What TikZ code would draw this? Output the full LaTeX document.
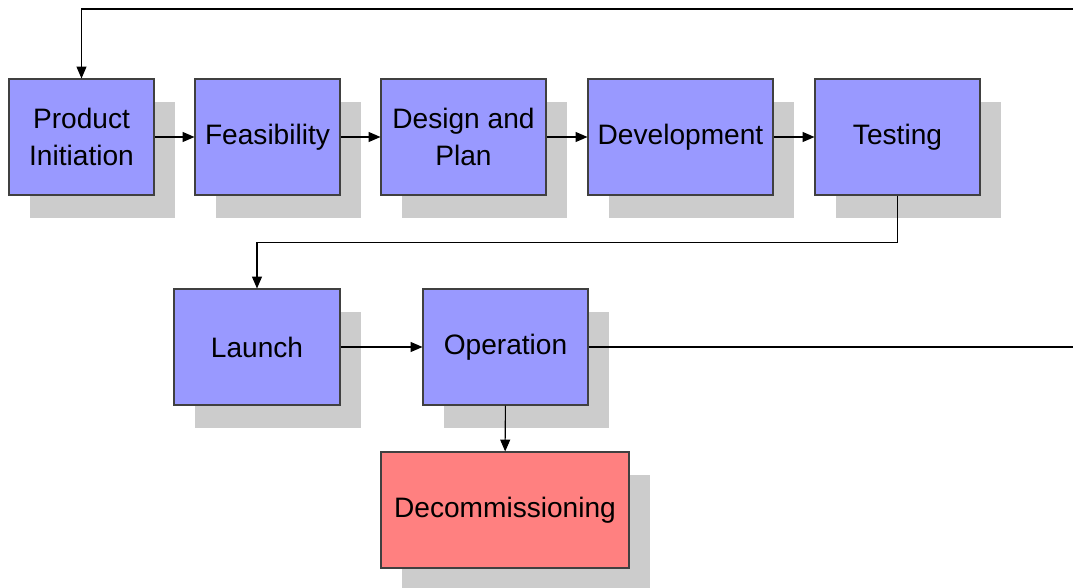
\documentclass[tikz,border=0pt]{standalone}
\usepackage{fontspec}
\setmainfont{Liberation Sans}
\usetikzlibrary{shadows,arrows.meta}
\definecolor{phaseblue}{HTML}{9999FF}
\definecolor{phasered}{HTML}{FF8080}
\definecolor{shadowgray}{HTML}{CCCCCC}
\tikzset{
  phase/.style={draw=black!75, line width=0.6pt, fill=phaseblue, align=center,
    minimum height=2.32cm, inner sep=2pt,
    font=\fontsize{16}{21}\selectfont,
    drop shadow={shadow xshift=0.42cm, shadow yshift=-0.46cm, fill=shadowgray, opacity=1}},
  flow/.style={line width=0.6pt, -{Triangle[length=6.8pt,width=5.7pt]}}
}

\begin{document}
\begin{tikzpicture}[x=0.02cm, y=-0.02cm]
            \useasboundingbox (0,0) rectangle (1073,588);
            % first row
            \node[phase, minimum width=2.9cm] (init) at (81.5,137) {Product\\Initiation};
            \node[phase, minimum width=2.9cm] (feas) at (267.5,137) {Feasibility};
            \node[phase, minimum width=3.3cm] (design) at (463.5,137) {Design and\\Plan};
            \node[phase, minimum width=3.7cm] (dev) at (680.5,137) {Development};
            \node[phase, minimum width=3.3cm] (test) at (897.5,137) {Testing};
            % second row
            \node[phase, minimum width=3.32cm] (launch) at (257,347) {Launch};
            \node[phase, minimum width=3.3cm] (oper) at (505.5,347) {Operation};
            \node[phase, minimum width=4.96cm, fill=phasered] (decom) at (505,510) {Decommissioning};
            \coordinate (backtop) at (1073,9);
            \coordinate (opout) at (1073,347);
            \draw[flow] (init) -- (feas);
            \draw[flow] (feas) -- (design);
            \draw[flow] (design) -- (dev);
            \draw[flow] (dev) -- (test);
            \draw[flow] (test.south) -- ++(0,47) -| (launch.north);
            \draw[flow] (launch) -- (oper);
            \draw[flow] (oper) -- (decom);
            \draw[line width=0.6pt] (oper.east) -- (opout);
            \draw[flow] (backtop) -| (init.north);
        \end{tikzpicture}
\end{document}
